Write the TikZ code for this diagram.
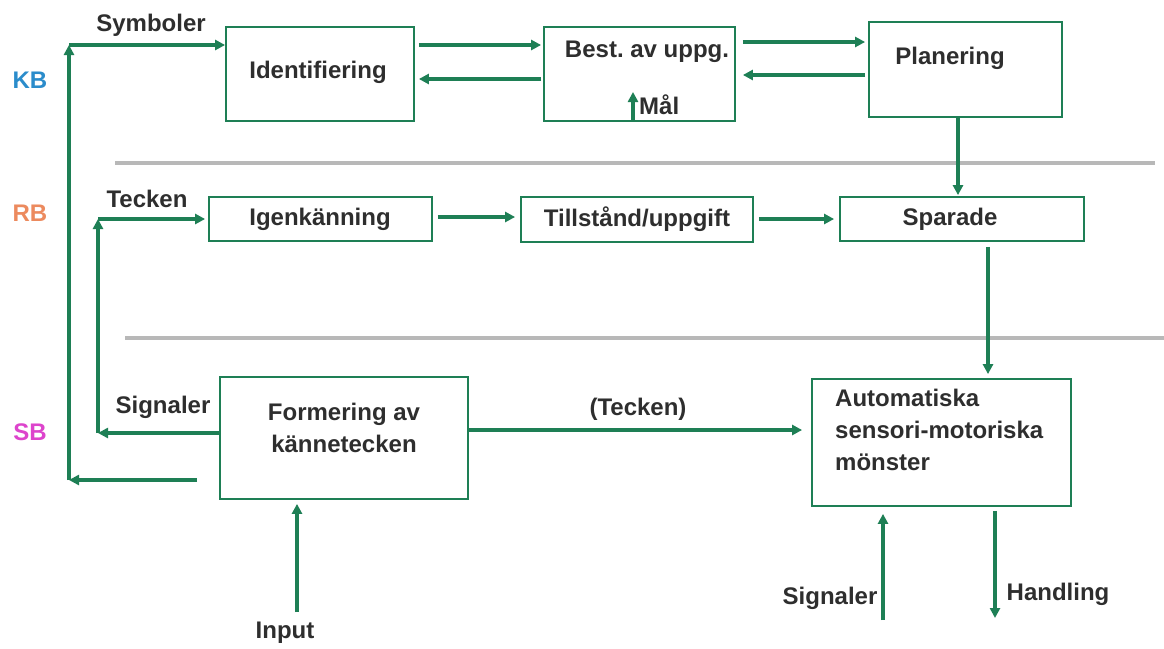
\documentclass[tikz,border=0pt]{standalone}
\usepackage{fontspec}
\setmainfont{Liberation Sans}
\usetikzlibrary{arrows.meta}
\definecolor{grn}{HTML}{1E7F55}
\definecolor{gry}{HTML}{B8B8B8}
\definecolor{kbc}{HTML}{2B8CCB}
\definecolor{rbc}{HTML}{EC8A5E}
\definecolor{sbc}{HTML}{DD44CC}
\frenchspacing
\begin{document}
\begin{tikzpicture}[x=1pt,y=-1pt,
  box/.style={draw=grn,line width=1.8pt,inner sep=0pt,fill=white},
  txt/.style={inner sep=0pt,font=\fontsize{24}{32}\selectfont\bfseries,text=black!82},
  arr/.style={draw=grn,line width=3.2pt,-{Triangle[length=10pt,width=10pt]}},
  sep/.style={draw=gry,line width=3.2pt}]
\useasboundingbox[fill=white] (0,0) rectangle (1164,648);
% separators
\draw[sep] (115,163) -- (1155,163);
\draw[sep] (125,338) -- (1164,338);
% boxes
\node[box,minimum width=188pt,minimum height=94pt] (ident) at (320,74) {};
\node[box,minimum width=191pt,minimum height=94pt] (best) at (639.5,74) {};
\node[box,minimum width=193pt,minimum height=95pt] (plan) at (965.5,69.5) {};
\node[box,minimum width=223pt,minimum height=44pt] (igen) at (320.5,219) {};
\node[box,minimum width=232pt,minimum height=45pt] (till) at (637,219.5) {};
\node[box,minimum width=244pt,minimum height=44pt] (spar) at (962,219) {};
\node[box,minimum width=248pt,minimum height=122pt] (form) at (344,438) {};
\node[box,minimum width=259pt,minimum height=127pt] (auto) at (941.5,442.5) {};
% box texts
\node[txt] (tident) at (318,72) {Identifiering};
\node[txt] (tbest) at (647,52) {Best. av uppg.};
\node[txt] (tplan) at (950,58) {Planering};
\node[txt] (tigen) at (320,219) {Igenkänning};
\node[txt] (ttill) at (637,219) {Tillstånd/uppgift};
\node[txt] (tspar) at (950,219) {Sparade};
\node[txt,align=center] (tform) at (344,428) {Formering av\\kännetecken};
\node[txt,align=left,anchor=west] (tauto) at (835,430) {Automatiska\\sensori-motoriska\\mönster};
% labels
\node[txt] (lsym) at (151,25) {Symboler};
\node[txt] (ltec) at (147,199) {Tecken};
\node[txt] (lsig) at (163,407) {Signaler};
\node[txt] (ltec2) at (638,409) {(Tecken)};
\node[txt] (linp) at (285,633) {Input};
\node[txt] (lsig2) at (830,598) {Signaler};
\node[txt] (lhan) at (1058,594) {Handling};
\node[txt,anchor=west] (lmal) at (639,105) {Mål};
\node[txt,text=kbc] (kb) at (30,80) {KB};
\node[txt,text=rbc] (rb) at (30,213) {RB};
\node[txt,text=sbc] (sb) at (30,432) {SB};
% coordinates
\coordinate (kbtop) at (69,45);
\coordinate (kbbot) at (69,480);
\coordinate (sbfree) at (197,480);
\coordinate (rbtop) at (98,219);
\coordinate (rbbot) at (98,433);
\coordinate (malend) at (633,92);
\coordinate (inp) at (297,612);
\coordinate (sig2) at (883,620);
\coordinate (hand) at (995,618);
% KB loop
\draw[arr] (sbfree) -- (kbbot);
\draw[arr] (kbbot) -- (kbtop);
\draw[arr] (kbtop) -- (ident.west |- kbtop);
% RB loop
\draw[arr] (form.west |- rbbot) -- (rbbot);
\draw[arr] (rbbot) -- (rbtop);
\draw[arr,shorten >=3pt] (rbtop) -- (igen.west);
% top row
\draw[arr,shorten <=4pt,shorten >=2pt] (ident.east |- 0,45) -- (best.west |- 0,45);
\draw[arr,shorten <=2pt,shorten >=4pt] (best.west |- 0,79) -- (ident.east |- 0,79);
\draw[arr,shorten <=7pt,shorten >=3pt] (best.east |- 0,42) -- (plan.west |- 0,42);
\draw[arr,shorten <=3pt,shorten >=7pt] (plan.west |- 0,75) -- (best.east |- 0,75);
\draw[arr] (best.south -| malend) -- (malend);
% middle
\draw[arr,shorten >=1pt] (plan.south -| 958,0) -- (spar.north -| 958,0);
\draw[arr,shorten <=5pt,shorten >=5pt] (igen.east |- 0,217) -- (till.west |- 0,217);
\draw[arr,shorten <=5pt,shorten >=5pt] (till.east |- 0,219) -- (spar.west |- 0,219);
\draw[arr,shorten <=5pt,shorten >=4pt] (spar.south -| 988,0) -- (auto.north -| 988,0);
% bottom
\draw[arr,shorten >=9pt] (form.east |- 0,430) -- (auto.west |- 0,430);
\draw[arr,shorten >=4pt] (inp) -- (form.south -| inp);
\draw[arr,shorten >=7pt] (sig2) -- (auto.south -| sig2);
\draw[arr,shorten <=4pt] (auto.south -| hand) -- (hand);
\end{tikzpicture}
\end{document}
